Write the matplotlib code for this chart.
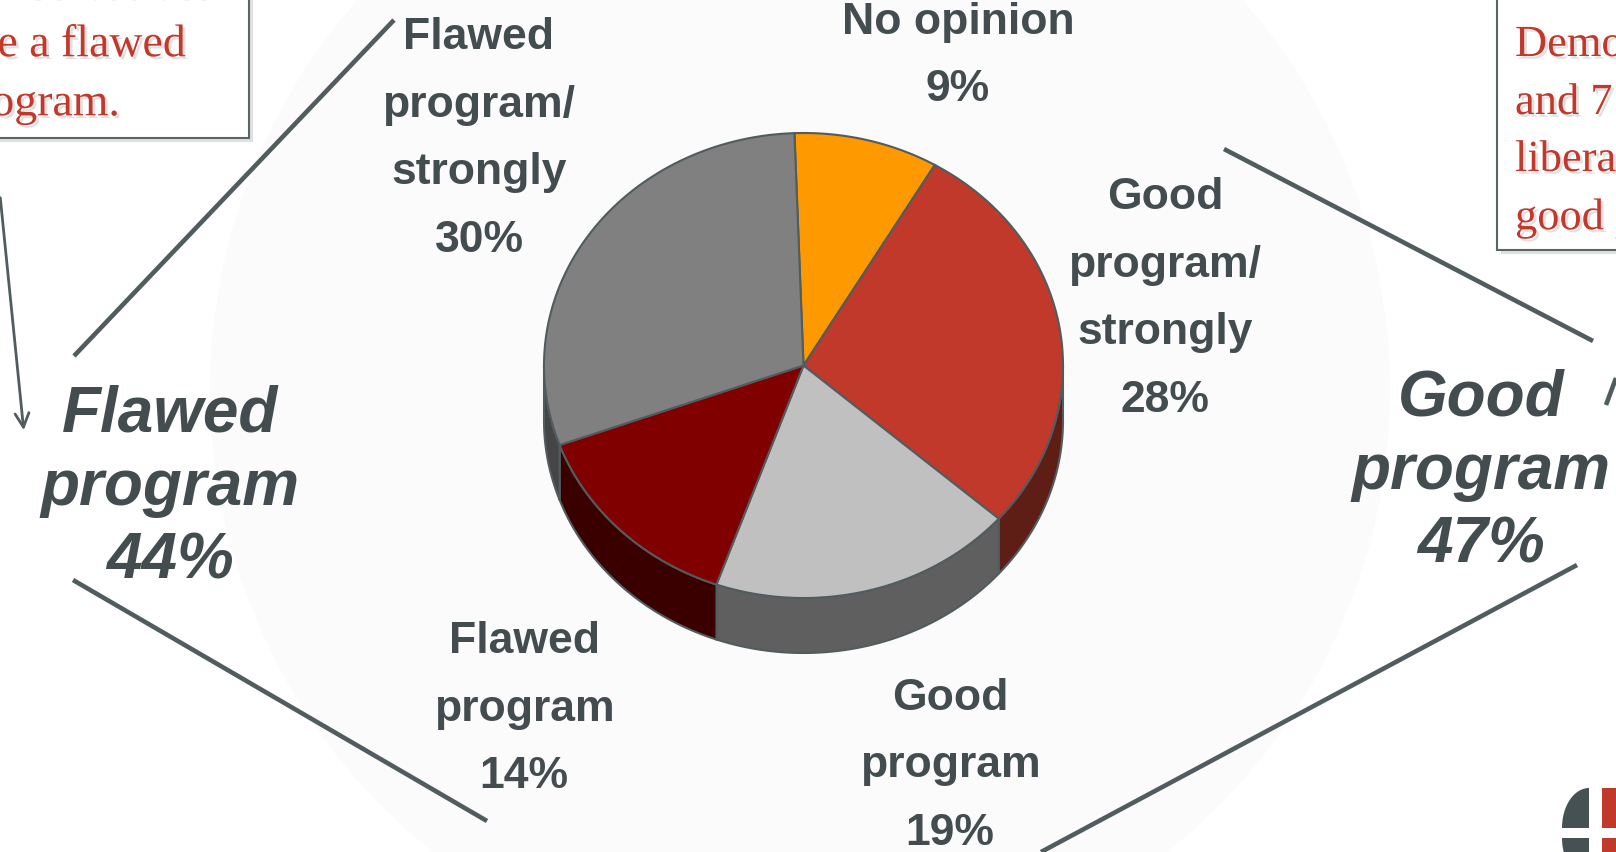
import numpy as np
import matplotlib.pyplot as plt
from matplotlib.patches import Polygon, Rectangle, Circle
import matplotlib.patheffects as pe

# Slice data (clockwise from the top)
slice_labels = ['No opinion', 'Good\nprogram/\nstrongly', 'Good\nprogram',
                'Flawed\nprogram', 'Flawed\nprogram/\nstrongly']
slice_values = [9, 28, 19, 14, 30]
top_colors = ['#FF9900', '#C0392A', '#C0C0C0', '#800000', '#808080']
side_colors = ['#B36B00', '#5E1D15', '#5F5F5F', '#3A0000', '#454545']

# Group totals
group_labels = ['Flawed\nprogram', 'Good\nprogram']
group_values = [44, 47]

# Text box fragments (cropped by the slide edge)
left_box_lines = ['conservatives', 'see a flawed', 'program.']
right_box_lines = ['Democrats', 'and 7', 'liberals see a', 'good program.']

TEXT = '#434D50'
LINE = '#515C5F'
RED = '#C0392B'

fig = plt.figure(figsize=(16.16, 8.52), dpi=100)
ax = fig.add_axes([0, 0, 1, 1])
ax.set_xlim(0, 1616)
ax.set_ylim(852, 0)
ax.axis('off')

# faint background disc
ax.add_patch(Circle((800, 390), 590, fc='#fbfbfb', ec='none', zorder=0))

# 3D pie geometry
cx, cy, rx, ry, depth = 803.5, 365.5, 259.5, 232.5, 55
start = 92
bounds = start - 3.6 * np.concatenate([[0], np.cumsum(slice_values)])


def pt(t):
    r = np.radians(t)
    return cx + rx * np.cos(r), cy - ry * np.sin(r)


# side walls (front half only)
for i in range(len(slice_values)):
    a0, a1 = bounds[i], bounds[i + 1]
    lo, hi = max(a1, -180), min(a0, 0)
    if lo >= hi:
        continue
    t = np.linspace(lo, hi, 80)
    x, y = pt(t)
    xs = np.concatenate([x, x[::-1]])
    ys = np.concatenate([y, (y + depth)[::-1]])
    ax.add_patch(Polygon(np.column_stack([xs, ys]), closed=True,
                         fc=side_colors[i], ec=LINE, lw=1.5, zorder=2))

# top face
for i in range(len(slice_values)):
    t = np.linspace(bounds[i], bounds[i + 1], 120)
    x, y = pt(t)
    xs = np.concatenate([[cx], x])
    ys = np.concatenate([[cy], y])
    ax.add_patch(Polygon(np.column_stack([xs, ys]), closed=True,
                         fc=top_colors[i], ec=LINE, lw=1.5, zorder=3))

# slice labels
label_pos = [(958, 56), (1165, 299), (950, 766), (524, 709), (479, 139)]
for lab, v, (x, y) in zip(slice_labels, slice_values, label_pos):
    ax.text(x, y, f'{lab}\n{v}%', ha='center', va='center', color=TEXT,
            family='Liberation Sans', weight='bold', fontsize=32,
            linespacing=1.83, zorder=5)

# group labels
group_pos = [(170, 488), (1481, 472)]
for lab, v, (x, y) in zip(group_labels, group_values, group_pos):
    ax.text(x, y, f'{lab}\n{v}%', ha='center', va='center', color=TEXT,
            family='Liberation Sans', weight='bold', style='italic',
            fontsize=46, linespacing=1.29, zorder=5)

# bracket lines
segments = [((74, 356), (394, 20)), ((73, 580), (487, 821)),
            ((1224, 149), (1593, 341)), ((1577, 565), (1041, 852)),
            ((1606, 405), (1616, 378))]
for (x0, y0), (x1, y1) in segments:
    ax.plot([x0, x1], [y0, y1], color=LINE, lw=3.3, solid_capstyle='butt', zorder=4)

# arrow from the left text box
ax.annotate('', xy=(24, 433), xytext=(0, 195),
            arrowprops=dict(arrowstyle='->,head_length=1.0,head_width=0.5',
                            color=LINE, lw=2.0), zorder=4)

# text boxes
shadow = [pe.withSimplePatchShadow(offset=(3, -3), shadow_rgbFace='#999999', alpha=0.3)]
ax.add_patch(Rectangle((-20, -20), 269, 158, fc='white', ec='#5A6568', lw=1.5,
                       zorder=4, path_effects=shadow))
ax.add_patch(Rectangle((1497, -20), 140, 270, fc='white', ec='#5A6568', lw=1.5,
                       zorder=4, path_effects=shadow))

txt_shadow = [pe.withSimplePatchShadow(offset=(2, -2), shadow_rgbFace='#aaaaaa', alpha=0.35)]
for line, xr, yc in zip(left_box_lines, [211, 186, 120], [-14, 45, 104]):
    ax.text(xr, yc, line, ha='right', va='center', color=RED,
            family='Liberation Serif', fontsize=33, zorder=6, path_effects=txt_shadow)
for line, yc in zip(right_box_lines, [45, 103, 160, 218]):
    ax.text(1515, yc, line, ha='left', va='center', color=RED,
            family='Liberation Serif', fontsize=32, zorder=6, path_effects=txt_shadow)

# logo fragment at bottom right
t = np.linspace(90, 180, 40)
qx = np.concatenate([[1589], 1589 + 27 * np.cos(np.radians(t))])
qy = np.concatenate([[828], 828 - 40 * np.sin(np.radians(t))])
ax.add_patch(Polygon(np.column_stack([qx, qy]), fc='#465154', ec='none', zorder=4))
t = np.linspace(180, 270, 40)
qx = np.concatenate([[1589], 1589 + 27 * np.cos(np.radians(t))])
qy = np.concatenate([[838], 838 - 40 * np.sin(np.radians(t))])
ax.add_patch(Polygon(np.column_stack([qx, qy]), fc='#465154', ec='none', zorder=4))
ax.add_patch(Rectangle((1602, 788), 20, 40, fc='#C0392A', ec='none', zorder=4))
ax.add_patch(Rectangle((1602, 838), 20, 20, fc='#C0392A', ec='none', zorder=4))

fig.savefig('out.png', dpi=100)
